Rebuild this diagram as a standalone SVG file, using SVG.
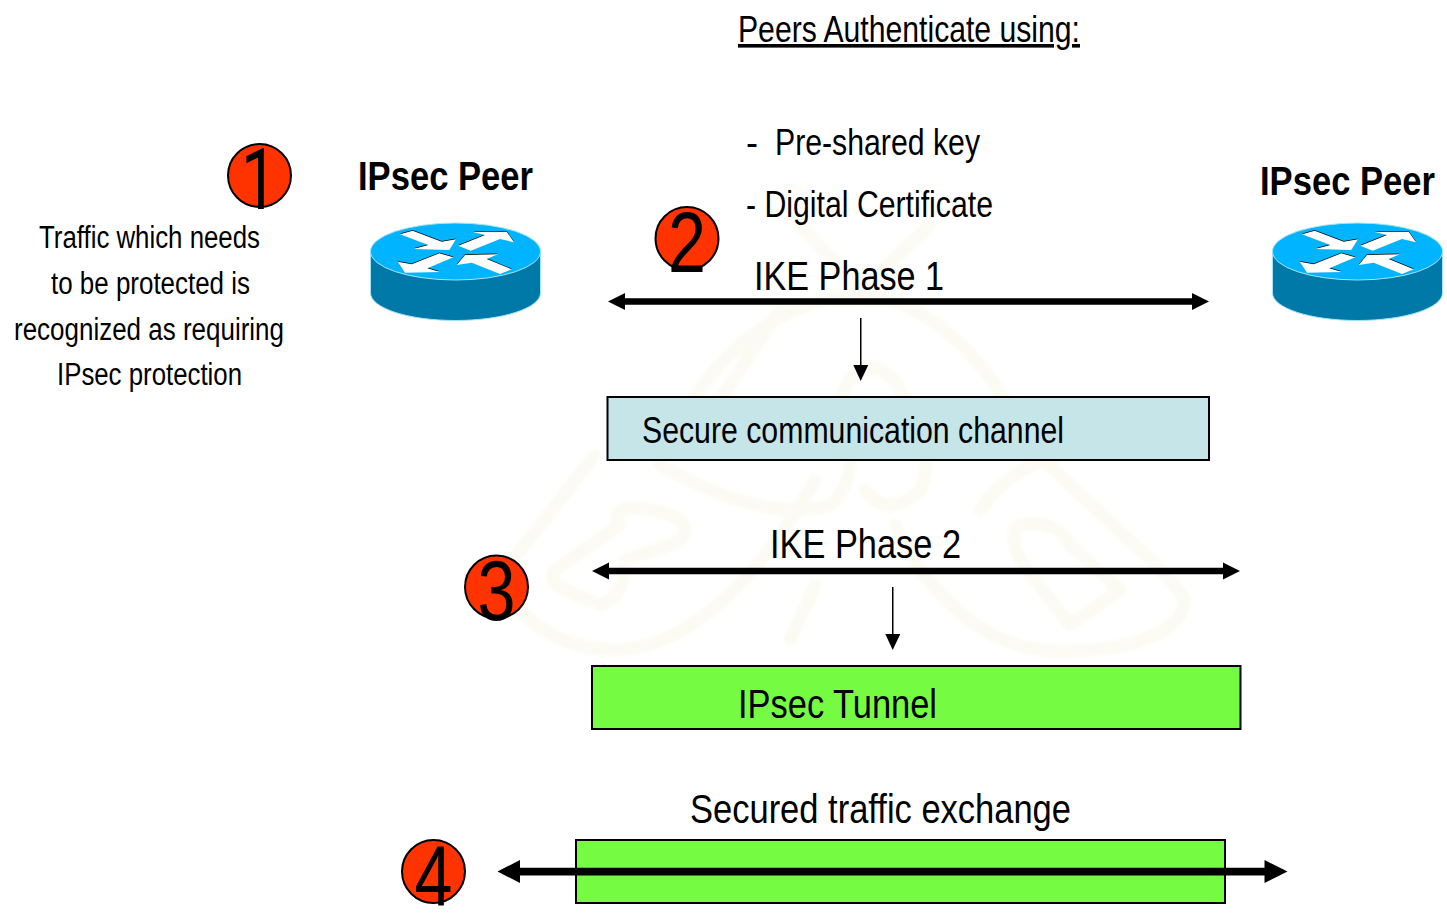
<svg xmlns="http://www.w3.org/2000/svg" width="1447" height="915" viewBox="0 0 1447 915">
<style>
text{font-family:"Liberation Sans",Arial,sans-serif;fill:#000}
.t{font-size:36px}
.l{font-size:31px}
.h{font-size:41px}
.b{font-size:40px;font-weight:bold}
.d{font-size:86px}
.c{fill:#ff3300;stroke:#000;stroke-width:2}
.wm{fill:none;stroke:#fbfbf3;stroke-width:13;stroke-linecap:round;stroke-linejoin:round;filter:url(#soft)}
.box{stroke:#000;stroke-width:2}
.thick{fill:#000}
.top{fill:#00b4ff;stroke:#a5e3f7;stroke-width:1}
.side{fill:#0079a8;stroke:#a5e3f7;stroke-width:1}
</style>
<defs>
<filter id="soft" x="-5%" y="-5%" width="110%" height="110%"><feGaussianBlur stdDeviation="2"/></filter>
<g id="router">
<path class="side" d="M370.500 252V293C370.500 308 408 320.500 455.500 320.500S540.500 308 540.500 293V252Z"/>
<ellipse class="top" cx="455.500" cy="251.500" rx="85" ry="28.500"/>
<g fill="#000" transform="translate(350 199.300)">
<polygon points="50,34.300 62.700,30.700 91.700,41.700 106,39.300 99.300,50 63.300,49 78.300,45"/>
<polygon points="108.300,45.700 135,35 121.700,31.700 156.700,31.700 164,42.300 150,39 120.700,50.700"/>
<polygon points="47.700,61.700 61.700,64.300 89.300,53.300 103.300,57.300 77.300,68.300 90,72 55,72.700"/>
<polygon points="106.700,65 115,55 147.700,54.300 136.700,59 161.700,69.300 150,74 121.700,62.700"/>
</g>
<g fill="#fff" transform="translate(350 200)">
<polygon points="50,34.300 62.700,30.700 91.700,41.700 106,39.300 99.300,50 63.300,49 78.300,45"/>
<polygon points="108.300,45.700 135,35 121.700,31.700 156.700,31.700 164,42.300 150,39 120.700,50.700"/>
<polygon points="47.700,61.700 61.700,64.300 89.300,53.300 103.300,57.300 77.300,68.300 90,72 55,72.700"/>
<polygon points="106.700,65 115,55 147.700,54.300 136.700,59 161.700,69.300 150,74 121.700,62.700"/>
</g>
</g>
</defs>
<rect width="1447" height="915" fill="#fff"/>
<g id="watermark" class="wm">
<path d="M595 455L505 570C510 620 560 650 620 650C700 645 770 560 815 480"/>
<path d="M800 225L870 300"/>
<path d="M930 225L850 300"/>
<path d="M590 600C560 590 545 580 555 570L620 525C610 510 625 505 650 510C690 515 695 535 670 545L625 560C625 580 620 600 600 605"/>
<path d="M680 420C720 350 780 300 860 295C930 300 990 360 1025 440C1090 510 1160 560 1185 600C1180 640 1110 655 1040 650C970 640 920 580 895 525"/>
<path d="M660 465C720 500 790 520 830 505C860 480 850 440 840 410C840 370 880 350 900 390C920 430 935 460 920 490C900 510 880 510 865 490"/>
<path d="M980 510C1000 480 1030 460 1075 450"/>
<path d="M1015 530C1020 520 1060 520 1070 545L1120 590L1070 625L1035 580C1020 560 1010 545 1015 530"/>
<path d="M790 640L815 585"/>
<path d="M720 400L780 310"/>
</g>
<g id="connectors">
<g class="thick">
<polygon points="608,301.500 625,293 625,298.300 1192,298.300 1192,293 1209,301.500 1192,310 1192,304.800 625,304.800 625,310"/>
<polygon points="592,571 609,562.500 609,567.800 1223,567.800 1223,562.500 1240,571 1223,579.500 1223,574.300 609,574.300 609,579.500"/>
<polygon points="860,318 861.500,318 861.500,365 868.300,365 860.700,381 853.300,365 860,365"/>
<polygon points="892,587 893.500,587 893.500,634 900.300,634 892.700,650 885.300,634 892,634"/>
</g>
</g>
<g id="box-channel"><rect class="box" x="607.500" y="397" width="601.500" height="63" fill="#c5e5e9"/>
<text class="t" x="642" y="443" textLength="422" lengthAdjust="spacingAndGlyphs">Secure communication channel</text></g>
<g id="box-tunnel"><rect class="box" x="592" y="666" width="648.500" height="63" fill="#75fc42"/>
<text class="h" x="738" y="717.500" textLength="199" lengthAdjust="spacingAndGlyphs">IPsec Tunnel</text></g>
<g id="box-traffic"><rect class="box" x="576" y="840" width="649" height="63" fill="#75fc42"/></g>
<polygon class="thick" points="497.500,871.500 520,860 520,867.700 1264.500,867.700 1264.500,860 1287.500,871.500 1264.500,883 1264.500,875.500 520,875.500 520,883"/>
<g id="router-left"><use href="#router"/><text class="b" x="358" y="190" textLength="175" lengthAdjust="spacingAndGlyphs">IPsec Peer</text></g>
<g id="router-right"><use href="#router" x="902"/><text class="b" x="1260" y="195" textLength="175" lengthAdjust="spacingAndGlyphs">IPsec Peer</text></g>
<g id="step-1"><circle class="c" cx="259.500" cy="175.500" r="31.500"/><text class="d" x="241" y="209" textLength="36" lengthAdjust="spacingAndGlyphs" style="font-family:Roboto,'Liberation Sans',sans-serif">1</text></g>
<g id="step-2"><circle class="c" cx="687" cy="238.500" r="31.500"/><text class="d" x="668" y="272" textLength="38" lengthAdjust="spacingAndGlyphs">2</text></g>
<g id="step-3"><circle class="c" cx="496.500" cy="587" r="31.500"/><text class="d" x="477.500" y="620" textLength="38" lengthAdjust="spacingAndGlyphs">3</text></g>
<g id="step-4"><circle class="c" cx="433.500" cy="871.500" r="31.500"/><text class="d" x="414.500" y="905" textLength="38" lengthAdjust="spacingAndGlyphs">4</text></g>
<g id="labels">
<text class="t" x="738" y="42" textLength="342" lengthAdjust="spacingAndGlyphs" text-decoration="underline">Peers Authenticate using:</text>
<text class="t" x="746" y="155">-</text>
<text class="t" x="775" y="155" textLength="205" lengthAdjust="spacingAndGlyphs">Pre-shared key</text>
<text class="t" x="746" y="217" textLength="247" lengthAdjust="spacingAndGlyphs">- Digital Certificate</text>
<text class="h" x="754" y="289.500" textLength="190" lengthAdjust="spacingAndGlyphs">IKE Phase 1</text>
<text class="h" x="770" y="558" textLength="191" lengthAdjust="spacingAndGlyphs">IKE Phase 2</text>
<text class="h" x="690" y="822.500" textLength="381" lengthAdjust="spacingAndGlyphs">Secured traffic exchange</text>
<text class="l" x="39" y="248" textLength="221" lengthAdjust="spacingAndGlyphs">Traffic which needs</text>
<text class="l" x="51" y="293.500" textLength="199" lengthAdjust="spacingAndGlyphs">to be protected is</text>
<text class="l" x="14" y="340" textLength="270" lengthAdjust="spacingAndGlyphs">recognized as requiring</text>
<text class="l" x="57" y="385" textLength="185" lengthAdjust="spacingAndGlyphs">IPsec protection</text>
</g>
</svg>
